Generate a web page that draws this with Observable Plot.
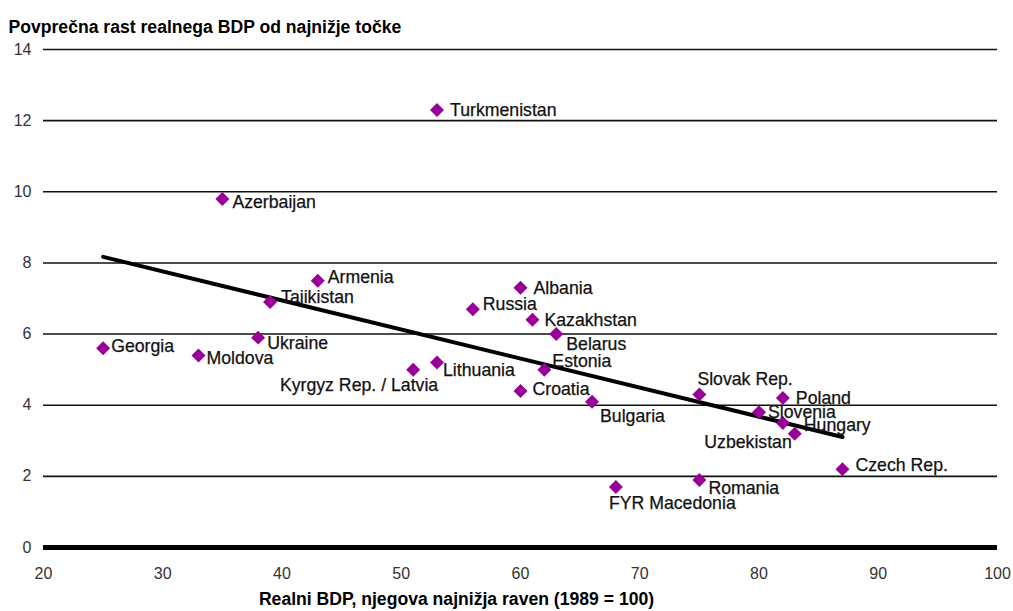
<!DOCTYPE html>
<html>
<head>
<meta charset="utf-8">
<script src="https://cdn.jsdelivr.net/npm/d3@7"></script>
<script src="https://cdn.jsdelivr.net/npm/@observablehq/plot@0.6"></script>
<style>
  html, body { margin: 0; padding: 0; background: #fff; }
  #chart { width: 1013px; height: 611px; }
</style>
</head>
<body>
<div id="chart"></div>
<script>
// ---- data ----
const countries = ["Georgia","Moldova","Azerbaijan","Ukraine","Tajikistan","Armenia","Kyrgyz Rep. / Latvia","Lithuania","Turkmenistan","Russia","Albania","Croatia","Kazakhstan","Estonia","Belarus","Bulgaria","FYR Macedonia","Romania","Slovak Rep.","Slovenia","Poland","Hungary","Uzbekistan","Czech Rep."];
const gdpLowest = [25, 33, 35, 38, 39, 43, 51, 53, 53, 56, 60, 60, 61, 62, 63, 66, 68, 75, 75, 80, 82, 82, 83, 87];
const avgGrowth = [5.6, 5.4, 9.8, 5.9, 6.9, 7.5, 5.0, 5.2, 12.3, 6.7, 7.3, 4.4, 6.4, 5.0, 6.0, 4.1, 1.7, 1.9, 4.3, 3.8, 4.2, 3.5, 3.2, 2.2];
const xTicks = [20, 30, 40, 50, 60, 70, 80, 90, 100];
const yTicks = [0, 2, 4, 6, 8, 10, 12, 14];
const titleText = "Povprečna rast realnega BDP od najnižje točke";
const xLabelText = "Realni BDP, njegova najnižja raven (1989 = 100)";

// label placement (anchor, dx, dy) per country – layout only
const labelPlacement = {
  "Georgia": ["start", 8, -2],
  "Moldova": ["start", 8, 3],
  "Azerbaijan": ["start", 10, 3],
  "Ukraine": ["start", 9, 6],
  "Tajikistan": ["start", 11, -5],
  "Armenia": ["start", 10, -3],
  "Kyrgyz Rep. / Latvia": ["end", 25, 16],
  "Lithuania": ["start", 6, 8],
  "Turkmenistan": ["start", 13, 0],
  "Russia": ["start", 10, -5],
  "Albania": ["start", 13, 0],
  "Croatia": ["start", 12, -2],
  "Kazakhstan": ["start", 12, 0],
  "Estonia": ["start", 8, -8],
  "Belarus": ["start", 10, 10],
  "Bulgaria": ["start", 8, 15],
  "FYR Macedonia": ["start", -7, 16],
  "Romania": ["start", 9, 8],
  "Slovak Rep.": ["start", -2, -15],
  "Slovenia": ["start", 9, 0],
  "Poland": ["start", 13, 0],
  "Hungary": ["start", 21, 2],
  "Uzbekistan": ["end", -3, 9],
  "Czech Rep.": ["start", 13, -4]
};

const data = countries.map((c, i) => ({country: c, x: gdpLowest[i], y: avgGrowth[i]}));

const font = "Arial, 'Liberation Sans', sans-serif";
const labelMarks = data.map(d => Plot.text([d], {
  x: "x", y: "y", text: "country",
  textAnchor: labelPlacement[d.country][0],
  dx: labelPlacement[d.country][1],
  dy: labelPlacement[d.country][2],
  fontSize: 17.7, fill: "#111", stroke: "#111", strokeWidth: 0.25, fontFamily: font
}));

const chart = Plot.plot({
  width: 1013,
  height: 611,
  marginLeft: 43,
  marginRight: 16,
  marginTop: 49,
  marginBottom: 64,
  style: {fontFamily: font, fontSize: "16px", color: "#222", background: "#fff"},
  x: {domain: [20, 100]},
  y: {domain: [0, 14]},
  marks: [
    Plot.ruleY(yTicks.filter(t => t !== 0), {stroke: "#111", strokeWidth: 1.6}),
    Plot.ruleY([0], {stroke: "#000", strokeWidth: 5}),
    Plot.axisY({ticks: yTicks, tickSize: 0, tickPadding: 12, label: null, fontSize: 16, fill: "#333"}),
    Plot.axisX({ticks: xTicks, tickSize: 0, tickPadding: 20, label: null, fontSize: 16, fill: "#333"}),
    Plot.linearRegressionY(data, {x: "x", y: "y", ci: 0, stroke: "#000", strokeWidth: 4}),
    Plot.dot(data, {x: "x", y: "y", symbol: "diamond2", r: 6.3, fill: "#990099", stroke: "none"}),
    ...labelMarks,
    Plot.text([titleText], {frameAnchor: "top-left", text: d => d, textAnchor: "start", dx: -35, dy: -29, fontSize: 17.6, fontWeight: "bold", fill: "#000", fontFamily: font}),
    Plot.text([xLabelText], {frameAnchor: "bottom", text: d => d, textAnchor: "middle", dx: -64, dy: 57, fontSize: 17.6, fontWeight: "bold", fill: "#000", fontFamily: font})
  ]
});
document.getElementById("chart").appendChild(chart);
</script>
</body>
</html>
